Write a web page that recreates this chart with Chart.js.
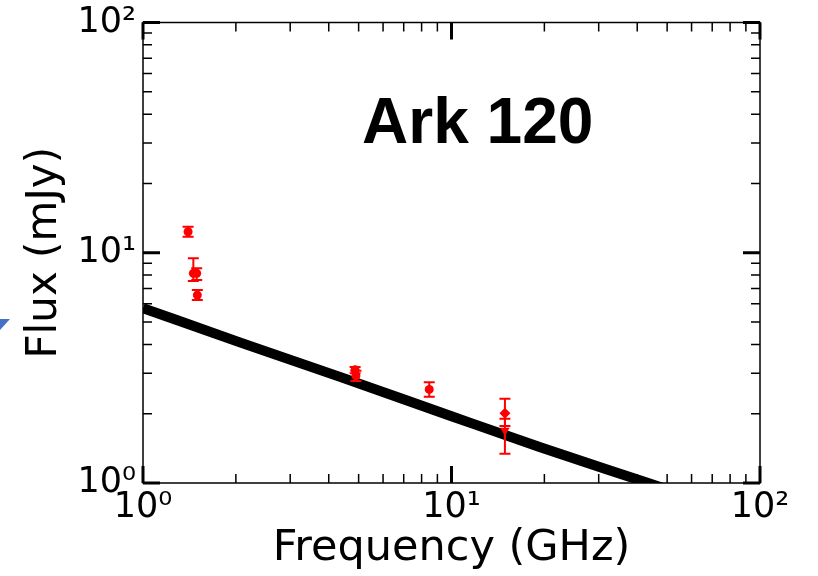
<!DOCTYPE html>
<html>
<head>
<meta charset="utf-8">
<script src="https://cdn.jsdelivr.net/npm/chart.js@4/dist/chart.umd.min.js"></script>
<style>
  html, body { margin: 0; padding: 0; background: #fff; }
  #wrap { position: relative; width: 818px; height: 576px; }
  #arrow {
    position: absolute; left: 0; top: 319px; width: 10px; height: 11px;
    background: #4472c4; clip-path: polygon(0 0, 100% 0, 0 100%);
  }
</style>
</head>
<body>
<div id="wrap">
  <canvas id="myChart" width="818" height="576"></canvas>
  <div id="arrow"></div>
</div>
<script>
// measured points (GHz, mJy)
const freqs = [1.40, 1.456, 1.493, 1.50, 4.87, 4.90, 8.47, 14.9, 14.9];
const flux = [12.34, 8.14, 8.14, 6.55, 3.10, 2.92, 2.55, 2.01, 1.69];
const fluxLo = [11.74, 7.54, 7.61, 6.23, 3.00, 2.77, 2.37, 1.77, 1.34];
const fluxHi = [12.97, 9.46, 8.56, 6.89, 3.19, 3.07, 2.74, 2.32, 1.90];
const markers = ['circle', 'circle', 'circle', 'circle', 'circle', 'circle', 'circle', 'rectRot', 'triangle'];
const markerRot = [0, 0, 0, 0, 0, 0, 0, 0, 180];
const markerSize = [4.5, 4.5, 4.5, 4.5, 4.5, 4.5, 4.5, 5.5, 5.5];

// model curve
const modelFreq = [1, 2.06, 4.35, 10, 19.4, 43.4, 64];
const modelFlux = [5.75, 4.08, 2.89, 1.95, 1.43, 1.00, 0.84];

// axes
const tickValues = [1, 10, 100];
const xTickLabels = ['10\u2070', '10\u00b9', '10\u00b2'];
const yTickLabels = ['10\u2070', '10\u00b9', '10\u00b2'];
const xTitle = 'Frequency (GHz)';
const yTitle = 'Flux (mJy)';

// label
const labelText = 'Ark 120';
const labelAt = { x: 5.13, y: 30 };

const fontFamily = "'DejaVu Sans', sans-serif";

// 枠と目盛り（内向き、四辺）
const frameTicks = {
  id: 'frameTicks',
  beforeDatasetsDraw(chart) {
    const { ctx, chartArea: a } = chart;
    const xs = chart.scales.x;
    const ys = chart.scales.y;
    ctx.save();
    ctx.strokeStyle = '#000';
    ctx.lineWidth = 1.5;
    ctx.strokeRect(a.left, a.top, a.right - a.left, a.bottom - a.top);
    for (let d = 1; d < 100; d *= 10) {
      for (let m = 1; m <= 10; m++) {
        const v = d * m;
        const major = m === 1 || m === 10;
        if (m === 10 && d !== 10) continue;
        const len = major ? 17 : 9;
        ctx.lineWidth = major ? 3 : 1.5;
        const px = xs.getPixelForValue(v);
        const py = ys.getPixelForValue(v);
        ctx.beginPath();
        ctx.moveTo(px, a.bottom); ctx.lineTo(px, a.bottom - len);
        ctx.moveTo(px, a.top); ctx.lineTo(px, a.top + len);
        ctx.moveTo(a.left, py); ctx.lineTo(a.left + len, py);
        ctx.moveTo(a.right, py); ctx.lineTo(a.right - len, py);
        ctx.stroke();
      }
    }
    ctx.restore();
  },
};

const errorBars = {
  id: 'errorBars',
  afterDatasetsDraw(chart) {
    const { ctx } = chart;
    const xs = chart.scales.x;
    const ys = chart.scales.y;
    ctx.save();
    ctx.strokeStyle = '#ff0000';
    ctx.lineWidth = 2;
    for (let i = 0; i < freqs.length; i++) {
      const px = xs.getPixelForValue(freqs[i]);
      const lo = ys.getPixelForValue(fluxLo[i]);
      const hi = ys.getPixelForValue(fluxHi[i]);
      ctx.beginPath();
      ctx.moveTo(px, lo); ctx.lineTo(px, hi);
      ctx.moveTo(px - 5.5, lo); ctx.lineTo(px + 5.5, lo);
      ctx.moveTo(px - 5.5, hi); ctx.lineTo(px + 5.5, hi);
      ctx.stroke();
    }
    ctx.restore();
  },
  afterDraw(chart) {
    const { ctx } = chart;
    ctx.save();
    ctx.fillStyle = '#000';
    ctx.font = "bold 64px 'Liberation Sans', Arial, sans-serif";
    ctx.textAlign = 'left';
    ctx.textBaseline = 'alphabetic';
    ctx.fillText(labelText, chart.scales.x.getPixelForValue(labelAt.x), chart.scales.y.getPixelForValue(labelAt.y));
    ctx.restore();
  },
};

function draw_chart() {
  const data = {
    datasets: [
      {
        type: 'scatter',
        data: freqs.map((f, i) => ({ x: f, y: flux[i] })),
        backgroundColor: '#ff0000',
        borderColor: '#ff0000',
        pointStyle: markers,
        rotation: markerRot,
        pointRadius: markerSize,
        borderWidth: 0,
      },
      {
        type: 'line',
        data: modelFreq.map((f, i) => ({ x: f, y: modelFlux[i] })),
        borderColor: '#000',
        borderWidth: 10,
        pointRadius: 0,
        cubicInterpolationMode: 'monotone',
        clip: 0,
      },
    ],
  };

  const config = {
    data: data,
    options: {
      responsive: false,
      animation: false,
      events: [],
      layout: { padding: { left: 0, right: 58, top: 22.5, bottom: 0 } },
      plugins: { legend: { display: false }, tooltip: { enabled: false } },
      scales: {
        x: {
          type: 'logarithmic',
          min: 1,
          max: 100,
          border: { display: false },
          grid: { display: false, drawTicks: false },
          afterBuildTicks: (s) => { s.ticks = tickValues.map((v) => ({ value: v })); },
          afterFit: (s) => {
            s.height = 93;
            s.paddingLeft = 0;
            s.paddingRight = 0;
          },
          ticks: {
            autoSkip: false,
            maxRotation: 0,
            padding: 4,
            color: '#000',
            font: { family: fontFamily, size: 35 },
            callback: (v, i) => xTickLabels[i],
          },
          title: {
            display: true,
            text: xTitle,
            color: '#000',
            font: { family: fontFamily, size: 43 },
            padding: { top: 0, bottom: 1 },
          },
        },
        y: {
          type: 'logarithmic',
          min: 1,
          max: 100,
          border: { display: false },
          grid: { display: false, drawTicks: false },
          afterBuildTicks: (s) => { s.ticks = tickValues.map((v) => ({ value: v })); },
          afterFit: (s) => {
            s.width = 143;
            s.paddingTop = 0;
            s.paddingBottom = 0;
          },
          ticks: {
            autoSkip: false,
            padding: 7,
            color: '#000',
            font: { family: fontFamily, size: 35 },
            callback: (v, i) => yTickLabels[i],
          },
          title: {
            display: true,
            text: yTitle,
            color: '#000',
            font: { family: fontFamily, size: 42 },
            padding: { top: 20, bottom: 0 },
          },
        },
      },
    },
    plugins: [frameTicks, errorBars],
  };

  new Chart(document.getElementById('myChart'), config);
}

draw_chart();
</script>
</body>
</html>
